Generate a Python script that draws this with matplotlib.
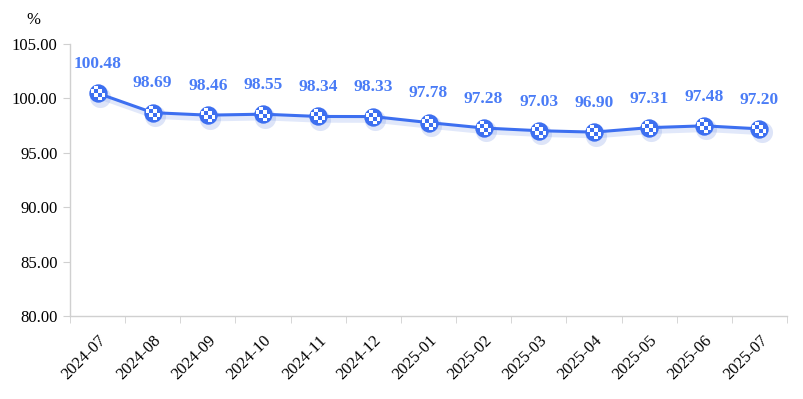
import numpy as np
import matplotlib.pyplot as plt
import matplotlib.transforms as mtransforms
from matplotlib.path import Path

MONTHS = ['2024-07', '2024-08', '2024-09', '2024-10', '2024-11', '2024-12', '2025-01',
          '2025-02', '2025-03', '2025-04', '2025-05', '2025-06', '2025-07']
VALUES = [100.48, 98.69, 98.46, 98.55, 98.34, 98.33, 97.78,
          97.28, 97.03, 96.90, 97.31, 97.48, 97.20]
Y_TICKS = [80, 85, 90, 95, 100, 105]

BLUE = '#3d6ff0'
LABEL_BLUE = '#4a7cf6'
AXIS_GREY = '#d0d0d0'

plt.rcParams['font.family'] = ['Liberation Serif', 'DejaVu Serif']


def checker_marker(n=4):
    # white cells of a small checkerboard, corners dropped so it reads round
    verts, codes = [], []
    for i in range(n):
        for j in range(n):
            if (i + j) % 2 or (i in (0, n - 1) and j in (0, n - 1)):
                continue
            x0, y0 = i - n / 2, j - n / 2
            verts += [(x0, y0), (x0 + 1, y0), (x0 + 1, y0 + 1), (x0, y0 + 1), (x0, y0)]
            codes += [Path.MOVETO, Path.LINETO, Path.LINETO, Path.LINETO, Path.CLOSEPOLY]
    return Path(verts, codes)


fig = plt.figure(figsize=(8.04, 3.99), dpi=100)
ax = fig.add_axes([70 / 804, 83 / 399, 717 / 804, 272 / 399])

x = np.arange(len(MONTHS))

# soft shadow under line and markers
shadow = mtransforms.offset_copy(ax.transData, fig=fig, x=1.5, y=-2.5, units='points')
ax.plot(x, VALUES, color='#9db4f0', lw=4, alpha=0.3, transform=shadow, zorder=1)
ax.scatter(x, VALUES, s=230, color='#8fa8e8', alpha=0.3, lw=0, transform=shadow, zorder=1)

ax.plot(x, VALUES, color=BLUE, lw=2.2, zorder=2)
ax.scatter(x, VALUES, s=175, color=BLUE, lw=0, zorder=3)
ax.scatter(x, VALUES, s=105, marker=checker_marker(), color='white', lw=0, zorder=4)

for xi, v in zip(x, VALUES):
    ax.annotate(f'{v:.2f}', (xi, v), xytext=(0, 21), textcoords='offset points',
                ha='center', va='center', fontsize=12.5, fontweight='bold',
                color=LABEL_BLUE)

ax.set_xlim(-0.5, len(MONTHS) - 0.5)
ax.set_ylim(80, 105)
ax.set_yticks(Y_TICKS)
ax.set_yticklabels([f'{t:.2f}' for t in Y_TICKS], fontsize=12)
ax.set_xticks(x)
ax.set_xticklabels(MONTHS, rotation=45, ha='right', rotation_mode='anchor', fontsize=12)
ax.set_xticks(np.arange(len(MONTHS) + 1) - 0.5, minor=True)
ax.tick_params(axis='x', which='major', length=0, pad=12)
ax.tick_params(axis='x', which='minor', length=5, color=AXIS_GREY)
ax.tick_params(axis='y', length=5, color=AXIS_GREY, pad=4)

for s in ['top', 'right']:
    ax.spines[s].set_visible(False)
for s in ['left', 'bottom']:
    ax.spines[s].set_color(AXIS_GREY)
    ax.spines[s].set_linewidth(1)

fig.text(33 / 804, 1 - 20 / 399, '%', fontsize=12, ha='center', va='center')

fig.savefig('out.png', dpi=100)
